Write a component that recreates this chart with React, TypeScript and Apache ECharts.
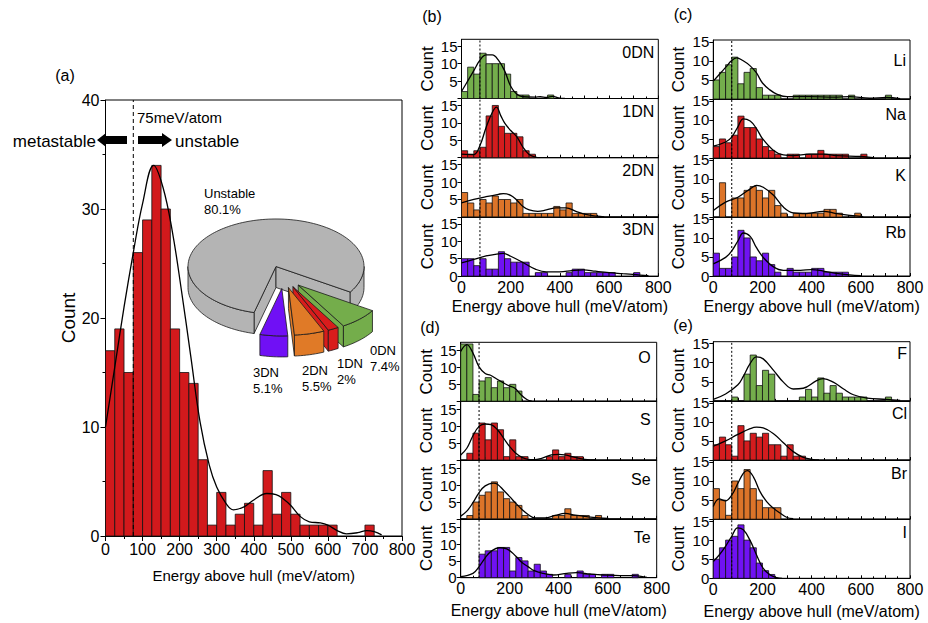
import React, { useEffect, useRef } from 'react';
import * as echarts from 'echarts';

const FONT = "'Liberation Sans', Arial, Helvetica, sans-serif";
const BIN_WIDTH = 25;
const THRESHOLD = 75;

// ---------- panel (a): all compounds ----------
const countsAll = [17, 19, 15, 26, 29, 34, 30, 19, 15, 14, 7, 1, 4, 1, 2, 3, 1, 6, 2, 4, 2, 1, 1, 1, 1, 0, 0, 0, 1];
const fitAll = [[0, 10], [25, 15.5], [50, 21], [75, 26], [100, 30.5], [130, 34], [155, 32], [180, 28], [205, 22.5], [230, 16.5], [255, 10.5], [280, 6.5], [300, 4.5], [325, 3], [345, 2.4], [375, 2.7], [400, 3.3], [435, 3.9], [460, 3.8], [480, 3.4], [500, 2.8], [525, 1.8], [550, 1.3], [580, 1.2], [600, 1], [625, 0.5], [650, 0.2], [680, 0.3], [705, 0.5], [725, 0.4], [745, 0.1]];

// pie inset
const pieNames = ['Unstable', '0DN', '1DN', '2DN', '3DN'];
const piePercents = [80.1, 7.4, 2, 5.5, 5.1];
const pieExplode = [0, 1, 1, 1, 1];

// ---------- panel (b): dimensionality ----------
const counts0DN = [2, 9, 7, 13, 10, 10, 10, 7, 2, 1, 1, 0, 0, 0, 1];
const fit0DN = [[0, 2], [25, 5], [50, 8], [75, 11], [100, 12.5], [125, 12.5], [150, 11], [175, 8], [200, 3.5], [225, 1.2], [250, 0.5], [300, 0.4], [320, 0.5], [345, 0.3], [370, 0.6], [395, 0.2], [420, 0]];
const counts1DN = [2, 1, 2, 3, 12, 15, 9, 7, 7, 6, 2, 1];
const fit1DN = [[0, 1], [50, 0.9], [75, 3.5], [100, 8.7], [125, 13], [142, 14.5], [160, 12], [175, 10], [200, 7.8], [225, 6], [250, 3], [275, 0.9], [300, 0.2], [320, 0]];
const counts2DN = [7, 4, 2, 5, 4, 6, 5, 5, 4, 5, 1, 1, 1, 1, 1, 3, 2, 4, 1, 1, 1, 1];
const fit2DN = [[0, 4], [50, 5], [100, 5.8], [150, 6.5], [170, 6.7], [200, 6.2], [225, 4.8], [250, 3], [275, 2], [310, 1.6], [345, 2], [385, 2.6], [425, 2.6], [465, 1.6], [505, 0.7], [550, 0.2], [580, 0]];
const counts3DN = [5, 5, 3, 5, 2, 2, 7, 5, 4, 4, 4, 0, 1, 1, 0, 0, 0, 1, 2, 2, 1, 1, 1, 1, 1, 0, 0, 0, 1];
const fit3DN = [[0, 3.8], [50, 4.8], [100, 5.8], [150, 6.4], [170, 6.5], [200, 5.7], [250, 3.9], [300, 2], [345, 1.2], [400, 1.2], [450, 1.6], [495, 1.8], [545, 1.4], [600, 1], [655, 0.7], [710, 0.4], [760, 0.1]];

// ---------- panel (c): alkali metals ----------
const countsLi = [5, 7, 9, 11, 4, 7, 8, 3, 1, 1, 1, 0, 0, 1, 1, 1, 1, 1, 1, 1, 1, 0, 1, 0, 0, 0, 0, 0, 1];
const fitLi = [[0, 4.7], [25, 6.5], [50, 8.3], [75, 10.1], [95, 10.8], [120, 10.1], [150, 8.7], [175, 6.9], [200, 4.2], [230, 2.4], [258, 1.3], [300, 0.6], [390, 0.6], [490, 0.5], [555, 0.6], [635, 0.2], [705, 0.4], [760, 0.1]];
const countsNa = [3, 5, 4, 6, 11, 8, 8, 5, 3, 2, 1, 0, 1, 1, 0, 1, 1, 2, 1, 1, 1, 1, 0, 0, 1];
const fitNa = [[0, 3.1], [50, 4.2], [75, 5.5], [100, 8.2], [122, 10.3], [150, 9.7], [175, 7.8], [200, 5.1], [245, 2], [285, 0.8], [325, 0.6], [390, 1], [450, 1], [500, 0.6], [600, 0.4], [650, 0.1]];
const countsK = [0, 9, 0, 5, 5, 7, 8, 7, 5, 7, 3, 1, 0, 1, 1, 1, 1, 1, 2, 2, 1, 0, 0, 1];
const fitK = [[0, 1.7], [50, 3.9], [100, 5.2], [150, 7.4], [176, 8.3], [203, 7.8], [245, 5.7], [285, 2.6], [325, 1.1], [380, 0.9], [447, 1.5], [500, 0.9], [555, 0.4], [610, 0.1]];
const countsRb = [6, 2, 2, 5, 12, 10, 5, 4, 6, 3, 1, 0, 2, 1, 1, 1, 2, 2, 1, 1, 1, 1, 0, 0];
const fitRb = [[0, 3.2], [50, 4.9], [75, 6.6], [100, 9.2], [122, 11.3], [150, 10.4], [175, 7.5], [203, 4.9], [245, 2.4], [285, 1.5], [355, 1.5], [400, 1.7], [447, 1.3], [500, 0.7], [555, 0.3], [600, 0.1]];

// ---------- panel (d): chalcogens ----------
const countsO = [17, 17, 2, 6, 7, 4, 6, 4, 5, 3];
const fitO = [[0, 14.8], [25, 16.8], [50, 14.3], [75, 10.2], [100, 8.2], [122, 7.7], [147, 6.6], [171, 5.6], [196, 4.6], [220, 3.9], [245, 2], [270, 0.5], [290, 0]];
const countsS = [0, 2, 8, 11, 6, 11, 9, 1, 6, 1, 1, 0, 0, 0, 1, 3, 1, 2, 1, 1];
const fitS = [[0, 1.5], [25, 3.5], [50, 7.2], [75, 10], [100, 10.7], [124, 10.5], [150, 9], [175, 6.5], [200, 4], [225, 2], [250, 0.8], [275, 0.2], [300, 0.1], [330, 0.5], [370, 1.5], [400, 1.7], [425, 1.5], [467, 0.8], [507, 0.2], [550, 0]];
const countsSe = [0, 1, 5, 7, 8, 11, 8, 6, 5, 4, 1, 0, 0, 0, 0, 1, 1, 3, 1, 1, 1, 0, 1];
const fitSe = [[0, 0.8], [25, 2.3], [50, 4.8], [75, 7.8], [100, 9.8], [133, 10.6], [150, 10.3], [175, 8.5], [200, 6.6], [225, 4.6], [250, 2.8], [275, 1.3], [303, 0.3], [344, 0.3], [385, 1], [426, 1.6], [467, 1.1], [520, 0.6], [562, 0.3], [603, 0.1]];
const countsTe = [0, 0, 0, 7, 8, 8, 9, 9, 2, 6, 5, 2, 4, 2, 1, 0, 0, 1, 0, 2, 1, 1, 0, 1, 1, 0, 0, 0, 1];
const fitTe = [[0, 0.3], [50, 1.3], [75, 3.3], [100, 5.9], [125, 7.9], [160, 8.9], [188, 8.6], [225, 6.4], [250, 4.5], [275, 3.3], [300, 2.1], [337, 1.3], [378, 0.8], [433, 1.3], [473, 1.5], [528, 1.1], [582, 0.8], [650, 0.6], [705, 0.6], [760, 0.1]];

// ---------- panel (e): halogens ----------
const countsF = [0, 0, 0, 1, 0, 7, 12, 4, 8, 7, 0, 0, 0, 0, 1, 3, 1, 6, 2, 4, 2, 1, 1, 1, 1, 0, 0, 0, 1];
const fitF = [[0, 0.4], [50, 1.8], [100, 4.2], [122, 6.4], [149, 9.7], [176, 11.5], [203, 11], [245, 8], [285, 4.9], [325, 3.1], [366, 3.3], [420, 5.3], [447, 5.8], [488, 4.9], [530, 3.1], [570, 1.6], [625, 0.7], [705, 0.4], [760, 0.1]];
const countsCl = [4, 6, 4, 1, 9, 5, 7, 6, 7, 4, 4, 1, 4, 1, 1];
const fitCl = [[0, 3.6], [50, 5], [100, 6.7], [150, 8.2], [176, 8.6], [203, 8.4], [245, 6.9], [285, 4.5], [325, 2.2], [366, 0.7], [407, 0.1], [430, 0]];
const countsBr = [8, 5, 1, 10, 8, 13, 8, 5, 3, 3, 3];
const fitBr = [[0, 3.3], [24, 5.3], [49, 4.8], [75, 6.3], [100, 9.4], [122, 12], [138, 12.7], [163, 11.1], [190, 7.2], [217, 4.6], [244, 2.9], [271, 1.6], [298, 0.5], [325, 0.1]];
const countsI = [5, 8, 10, 11, 14, 10, 8, 4, 2, 1];
const fitI = [[0, 4.4], [24, 6.1], [49, 8.3], [75, 11], [99, 13.2], [122, 12.7], [149, 10], [176, 6.1], [203, 2.6], [231, 0.9], [258, 0.2], [280, 0]];

// ---------- styling ----------
const GREEN = '#74ae4c';
const RED = '#d41c1e';
const ORANGE = '#dc7429';
const PURPLE = '#7012f3';
const MAIN_RED = '#d2191c';
const PIE_COLORS = ['#b4b4b4', '#74ad4b', '#d81c1c', '#e07a27', '#7010f5'];

const PIE_CX = 276;
const PIE_CY = 266.5;
const PIE_R = 88;
const PIE_K = 0.54;
const PIE_T = 21;
const PIE_EXPLODE = 41;
const PIE_START = 32.5;

const pieTotal = piePercents.reduce((s, v) => s + v, 0);
const pieOrder = [1, 2, 3, 4, 0];
const pieSlices: number[][] = [];
{
  let a = PIE_START;
  for (const idx of pieOrder) {
    const span = (piePercents[idx] / pieTotal) * 360;
    pieSlices.push([a, a + span, pieExplode[idx], idx]);
    a += span;
  }
}
const explodedSpan = pieSlices.filter((s) => s[2]).reduce((s, v) => s + (v[1] - v[0]), 0);
const GAP_MID = PIE_START + explodedSpan / 2;
const pieData = [pieSlices[4], pieSlices[0], pieSlices[1], pieSlices[2], pieSlices[3]];

type Sub = { counts: number[]; fit: number[][]; color: string; label: string };
type Panel = { left: number; top: number; width: number; rowH: number; ymax: number; labelDy: number[]; labelInset: number; nameGap: number; subs: Sub[] };

const panels: Panel[] = [
  {
    left: 461.5, top: 39.3, width: 196.8, rowH: 59.2, ymax: 17, labelDy: [13, 13, 13, 13], labelInset: 4, nameGap: 22,
    subs: [
      { counts: counts0DN, fit: fit0DN, color: GREEN, label: '0DN' },
      { counts: counts1DN, fit: fit1DN, color: RED, label: '1DN' },
      { counts: counts2DN, fit: fit2DN, color: ORANGE, label: '2DN' },
      { counts: counts3DN, fit: fit3DN, color: PURPLE, label: '3DN' },
    ],
  },
  {
    left: 713.3, top: 40, width: 196.7, rowH: 59, ymax: 15.5, labelDy: [20, 15, 17, 15], labelInset: 4, nameGap: 22,
    subs: [
      { counts: countsLi, fit: fitLi, color: GREEN, label: 'Li' },
      { counts: countsNa, fit: fitNa, color: RED, label: 'Na' },
      { counts: countsK, fit: fitK, color: ORANGE, label: 'K' },
      { counts: countsRb, fit: fitRb, color: PURPLE, label: 'Rb' },
    ],
  },
  {
    left: 460.7, top: 342.3, width: 196, rowH: 58.85, ymax: 17.5, labelDy: [15, 18, 19, 19], labelInset: 6, nameGap: 25,
    subs: [
      { counts: countsO, fit: fitO, color: GREEN, label: 'O' },
      { counts: countsS, fit: fitS, color: RED, label: 'S' },
      { counts: countsSe, fit: fitSe, color: ORANGE, label: 'Se' },
      { counts: countsTe, fit: fitTe, color: PURPLE, label: 'Te' },
    ],
  },
  {
    left: 713.3, top: 341.7, width: 196.7, rowH: 59.15, ymax: 15.5, labelDy: [12, 13, 13, 13], labelInset: 3, nameGap: 25,
    subs: [
      { counts: countsF, fit: fitF, color: GREEN, label: 'F' },
      { counts: countsCl, fit: fitCl, color: RED, label: 'Cl' },
      { counts: countsBr, fit: fitBr, color: ORANGE, label: 'Br' },
      { counts: countsI, fit: fitI, color: PURPLE, label: 'I' },
    ],
  },
];

const panelLetters = [
  { text: '(a)', x: 65, y: 75 },
  { text: '(b)', x: 432, y: 16 },
  { text: '(c)', x: 683, y: 14 },
  { text: '(d)', x: 430, y: 327 },
  { text: '(e)', x: 683, y: 325 },
];

// first-line centres of the pie labels
const pieLabelPos = [
  [204, 193],
  [370, 350],
  [337, 363],
  [302, 370],
  [253, 372],
];
const PIE_LABEL_LH = 16.5;

function histSeries(idx: number, counts: number[], color: string) {
  return {
    type: 'custom',
    xAxisIndex: idx,
    yAxisIndex: idx,
    silent: true,
    z: 2,
    dimensions: ['x', 'y'],
    encode: { x: 0, y: 1 },
    data: counts.map((c, i) => [i * BIN_WIDTH, c]),
    renderItem: (params: any, api: any) => {
      const x0 = api.value(0);
      const v = api.value(1);
      if (!v) return { type: 'group', children: [] };
      const p0 = api.coord([x0, 0]);
      const p1 = api.coord([x0 + BIN_WIDTH, v]);
      return {
        type: 'rect',
        shape: { x: p0[0], y: p1[1], width: p1[0] - p0[0], height: p0[1] - p1[1] },
        style: { fill: color, stroke: '#111', lineWidth: 0.8 },
      };
    },
  };
}

function fitSeries(idx: number, pts: number[][]) {
  return {
    type: 'line',
    xAxisIndex: idx,
    yAxisIndex: idx,
    data: pts,
    smooth: 0.4,
    symbol: 'none',
    silent: true,
    z: 4,
    lineStyle: { color: '#000', width: 1.3 },
  };
}

function thresholdSeries(idx: number, ymax: number, dash: any) {
  return {
    type: 'line',
    xAxisIndex: idx,
    yAxisIndex: idx,
    data: [[THRESHOLD, 0], [THRESHOLD, ymax]],
    symbol: 'none',
    silent: true,
    z: 5,
    lineStyle: { color: '#000', width: 1, type: dash },
  };
}

function buildOption() {
  const grid: any[] = [];
  const xAxis: any[] = [];
  const yAxis: any[] = [];
  const series: any[] = [];
  const graphic: any[] = [];

  // panel (a)
  grid.push({ left: 105.5, top: 100, width: 296.5, height: 436, show: true, borderColor: '#000', borderWidth: 1, backgroundColor: 'transparent', outerBoundsMode: 'none' });
  xAxis.push({
    gridIndex: 0, type: 'value', min: 0, max: 800, interval: 100,
    axisLine: { show: true, onZero: false, lineStyle: { color: '#000', width: 1 } },
    axisTick: { show: true, length: 5, lineStyle: { color: '#000' } },
    minorTick: { show: true, splitNumber: 2, length: 3, lineStyle: { color: '#000' } },
    axisLabel: { color: '#000', fontSize: 16, fontFamily: FONT, margin: 5 },
    splitLine: { show: false },
    name: 'Energy above hull (meV/atom)', nameLocation: 'middle', nameGap: 32,
    nameTextStyle: { color: '#000', fontSize: 15, fontFamily: FONT },
  });
  yAxis.push({
    gridIndex: 0, type: 'value', min: 0, max: 40, interval: 10,
    axisLine: { show: true, onZero: false, lineStyle: { color: '#000', width: 1 } },
    axisTick: { show: true, length: 5, lineStyle: { color: '#000' } },
    minorTick: { show: true, splitNumber: 2, length: 3, lineStyle: { color: '#000' } },
    axisLabel: { color: '#000', fontSize: 16, fontFamily: FONT, margin: 6 },
    splitLine: { show: false },
    name: 'Count', nameLocation: 'middle', nameGap: 26, nameRotate: 90,
    nameTextStyle: { color: '#000', fontSize: 19, fontFamily: FONT },
  });
  series.push(histSeries(0, countsAll, MAIN_RED));
  series.push(fitSeries(0, fitAll));
  series.push(thresholdSeries(0, 40, [4, 3]));

  // sub panels
  let idx = 1;
  panels.forEach((p) => {
    p.subs.forEach((s, r) => {
      const top = p.top + r * p.rowH;
      const isBottom = r === p.subs.length - 1;
      grid.push({ left: p.left, top, width: p.width, height: p.rowH, show: true, borderColor: '#000', borderWidth: 1, backgroundColor: 'transparent', outerBoundsMode: 'none' });
      xAxis.push({
        gridIndex: idx, type: 'value', min: 0, max: 800, interval: 100,
        axisLine: { show: true, onZero: false, lineStyle: { color: '#000', width: 1 } },
        axisTick: { show: true, inside: true, length: 3, lineStyle: { color: '#000' } },
        minorTick: { show: true, splitNumber: 2, length: 2, lineStyle: { color: '#000' } },
        axisLabel: {
          show: isBottom, color: '#000', fontSize: 16, fontFamily: FONT, margin: 3,
          formatter: (v: number) => (v % 200 === 0 ? String(v) : ''),
        },
        splitLine: { show: false },
        name: isBottom ? 'Energy above hull (meV/atom)' : '', nameLocation: 'middle', nameGap: p.nameGap,
        nameTextStyle: { color: '#000', fontSize: 16, fontFamily: FONT },
      });
      yAxis.push({
        gridIndex: idx, type: 'value', min: 0, max: p.ymax, interval: 5,
        axisLine: { show: true, onZero: false, lineStyle: { color: '#000', width: 1 } },
        axisTick: { show: true, length: 4, lineStyle: { color: '#000' } },
        axisLabel: {
          color: '#000', fontSize: 15, fontFamily: FONT, margin: 4, showMaxLabel: false,
          formatter: (v: number) => (v % 5 !== 0 ? '' : v === 0 && !isBottom ? '' : String(v)),
        },
        splitLine: { show: false },
        name: 'Count', nameLocation: 'middle', nameGap: 26, nameRotate: 90,
        nameTextStyle: { color: '#000', fontSize: 17, fontFamily: FONT },
      });
      series.push(histSeries(idx, s.counts, s.color));
      series.push(fitSeries(idx, s.fit));
      series.push(thresholdSeries(idx, p.ymax, [2, 2]));
      graphic.push({
        type: 'text', x: p.left + p.width - p.labelInset, y: top + p.labelDy[r], silent: true,
        style: { text: s.label, fontSize: 16, fontFamily: FONT, fill: '#000', align: 'right', verticalAlign: 'middle' },
      });
      idx++;
    });
  });

  // pie inset (pseudo 3D)
  series.push({
    type: 'custom',
    coordinateSystem: 'none',
    silent: true,
    z: 10,
    dimensions: ['a1', 'a2', 'ex', 'ci'],
    data: pieData,
    renderItem: (params: any, api: any) => {
      const a1 = api.value(0);
      const a2 = api.value(1);
      const ex = api.value(2);
      const ci = api.value(3);
      const rad = Math.PI / 180;
      let ox = 0;
      let oy = 0;
      if (ex) {
        const m = (a1 + a2) / 2;
        const dir = (GAP_MID + 0.5 * (m - GAP_MID)) * rad;
        ox = PIE_EXPLODE * Math.cos(dir);
        oy = PIE_EXPLODE * PIE_K * Math.sin(dir);
      }
      const cx = PIE_CX + ox;
      const cy = PIE_CY + oy;
      const pt = (deg: number, dy = 0) => [cx + PIE_R * Math.cos(deg * rad), cy + PIE_R * PIE_K * Math.sin(deg * rad) + dy];
      const arc = (from: number, to: number, dy: number) => {
        const n = Math.max(2, Math.ceil(Math.abs(to - from) / 2));
        const out: number[][] = [];
        for (let i = 0; i <= n; i++) out.push(pt(from + ((to - from) * i) / n, dy));
        return out;
      };
      const style = { fill: PIE_COLORS[ci], stroke: '#1a1a1a', lineWidth: 0.8, lineJoin: 'round' };
      const children: any[] = [];
      if (Math.cos(a1 * rad) < 0) children.push({ type: 'polygon', shape: { points: [[cx, cy], pt(a1), pt(a1, PIE_T), [cx, cy + PIE_T]] }, style });
      if (Math.cos(a2 * rad) > 0) children.push({ type: 'polygon', shape: { points: [[cx, cy], pt(a2), pt(a2, PIE_T), [cx, cy + PIE_T]] }, style });
      for (const lo of [0, 360]) {
        const u = Math.max(a1, lo);
        const v = Math.min(a2, lo + 180);
        if (v > u) children.push({ type: 'polygon', shape: { points: [...arc(u, v, 0), ...arc(v, u, PIE_T)] }, style });
      }
      children.push({ type: 'polygon', shape: { points: [[cx, cy], ...arc(a1, a2, 0)] }, style });
      return { type: 'group', children };
    },
  });

  pieNames.forEach((n, i) => {
    graphic.push({
      type: 'text', x: pieLabelPos[i][0], y: pieLabelPos[i][1] - PIE_LABEL_LH / 2, silent: true, z: 20,
      style: { text: n + '\n' + piePercents[i] + '%', fontSize: 13, lineHeight: PIE_LABEL_LH, fontFamily: FONT, fill: '#000', align: 'left', verticalAlign: 'top' },
    });
  });

  // annotations in (a)
  graphic.push({ type: 'text', x: 137, y: 117, silent: true, style: { text: THRESHOLD + 'meV/atom', fontSize: 15, fontFamily: FONT, fill: '#000', align: 'left', verticalAlign: 'middle' } });
  graphic.push({ type: 'text', x: 96, y: 141, silent: true, style: { text: 'metastable', fontSize: 17, fontFamily: FONT, fill: '#000', align: 'right', verticalAlign: 'middle' } });
  graphic.push({ type: 'text', x: 175, y: 141, silent: true, style: { text: 'unstable', fontSize: 17, fontFamily: FONT, fill: '#000', align: 'left', verticalAlign: 'middle' } });
  graphic.push({ type: 'polygon', silent: true, shape: { points: [[97, 140], [106, 133], [106, 136], [127, 136], [127, 144], [106, 144], [106, 147]] }, style: { fill: '#000' } });
  graphic.push({ type: 'polygon', silent: true, shape: { points: [[138, 136], [162, 136], [162, 133], [172, 140], [162, 147], [162, 144], [138, 144]] }, style: { fill: '#000' } });

  panelLetters.forEach((l) => {
    graphic.push({ type: 'text', x: l.x, y: l.y, silent: true, style: { text: l.text, fontSize: 16, fontFamily: FONT, fill: '#000', align: 'center', verticalAlign: 'middle' } });
  });

  return {
    animation: false,
    backgroundColor: '#fff',
    textStyle: { fontFamily: FONT },
    grid,
    xAxis,
    yAxis,
    series,
    graphic,
  };
}

export default function App() {
  const ref = useRef<HTMLDivElement>(null);
  useEffect(() => {
    document.body.style.margin = '0';
    if (!ref.current) return;
    const chart = echarts.init(ref.current, undefined, { renderer: 'svg' });
    chart.setOption(buildOption() as any);
    return () => chart.dispose();
  }, []);
  return <div ref={ref} style={{ width: 928, height: 623 }} />;
}
